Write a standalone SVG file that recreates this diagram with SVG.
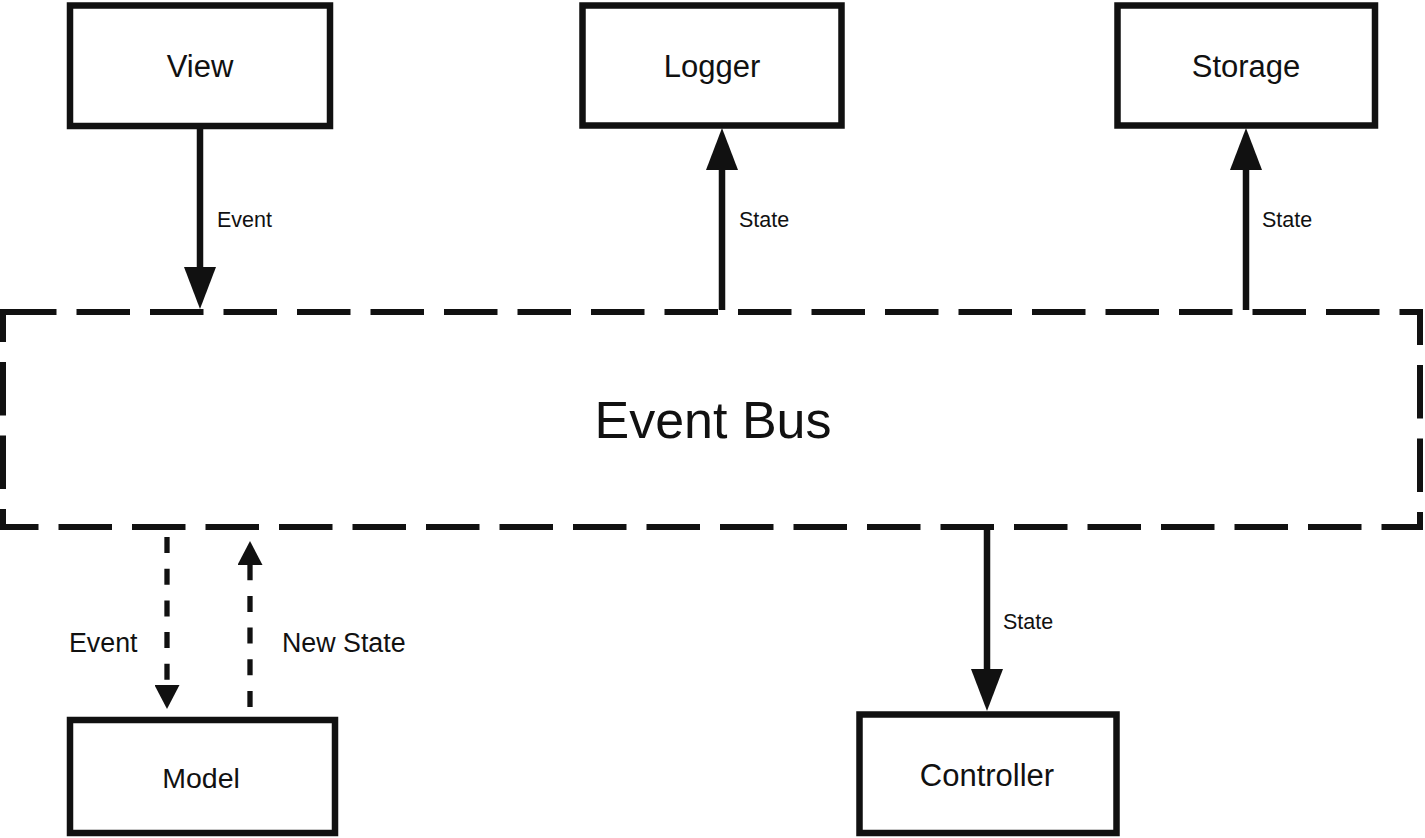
<svg xmlns="http://www.w3.org/2000/svg" width="1425" height="838" viewBox="0 0 1425 838">
  <style>
    .box { fill: #fff; stroke: #111; stroke-width: 6.5; }
    .bus { fill: none; stroke: #111; stroke-width: 6; stroke-dasharray: 53.5 20; }
    .t { font-family: "Liberation Sans", Arial, Helvetica, sans-serif; fill: #111; }
    .node { font-size: 31px; text-anchor: middle; }
    .lbl { font-size: 21.5px; }
    .lbl2 { font-size: 26.8px; }
    .solid { fill: none; stroke: #111; stroke-width: 6.5; }
    .dash { fill: none; stroke: #111; stroke-width: 5.3; stroke-dasharray: 16 15.7; }
  </style>
  <defs>
    <marker id="big" markerUnits="userSpaceOnUse" viewBox="0 0 42 32" refX="0" refY="16" markerWidth="42" markerHeight="32" orient="auto">
      <path d="M0,0 L42,16 L0,32 z" fill="#111"/>
    </marker>
    <marker id="small" markerUnits="userSpaceOnUse" viewBox="0 0 24 25" refX="0" refY="12.5" markerWidth="24" markerHeight="25" orient="auto">
      <path d="M0,0 L24,12.5 L0,25 z" fill="#111"/>
    </marker>
  </defs>

  <g id="bus">
    <rect class="bus" x="3" y="312" width="1417" height="215"/>
    <text class="t" x="713" y="438" font-size="52" text-anchor="middle">Event Bus</text>
  </g>

  <g id="view">
    <rect class="box" x="70" y="5.5" width="260" height="120.5"/>
    <text class="t node" x="200" y="77">View</text>
  </g>
  <g id="logger">
    <rect class="box" x="582.5" y="5.5" width="259" height="120"/>
    <text class="t node" x="712" y="77">Logger</text>
  </g>
  <g id="storage">
    <rect class="box" x="1117.5" y="5.5" width="257.5" height="120"/>
    <text class="t node" x="1246" y="77">Storage</text>
  </g>
  <g id="model">
    <rect class="box" x="70" y="720" width="265" height="113"/>
    <text class="t" x="201" y="788" font-size="28.5" text-anchor="middle">Model</text>
  </g>
  <g id="controller">
    <rect class="box" x="859.5" y="714.5" width="257" height="118.5"/>
    <text class="t node" x="987" y="786">Controller</text>
  </g>

  <g id="connectors">
    <path class="solid" d="M200,129 L200,267" marker-end="url(#big)"/>
    <path class="solid" d="M722,310 L722,170" marker-end="url(#big)"/>
    <path class="solid" d="M1246,310 L1246,170" marker-end="url(#big)"/>
    <path class="solid" d="M987,528 L987,669" marker-end="url(#big)"/>
    <path class="dash" d="M167,537 L167,685" marker-end="url(#small)"/>
    <path class="dash" d="M250,707 L250,565" marker-end="url(#small)"/>
    <text class="t lbl" x="217" y="227">Event</text>
    <text class="t lbl" x="739" y="227">State</text>
    <text class="t lbl" x="1262" y="227">State</text>
    <text class="t lbl" x="1003" y="629">State</text>
    <text class="t lbl2" x="69" y="652">Event</text>
    <text class="t lbl2" x="282" y="652">New State</text>
  </g>
</svg>
